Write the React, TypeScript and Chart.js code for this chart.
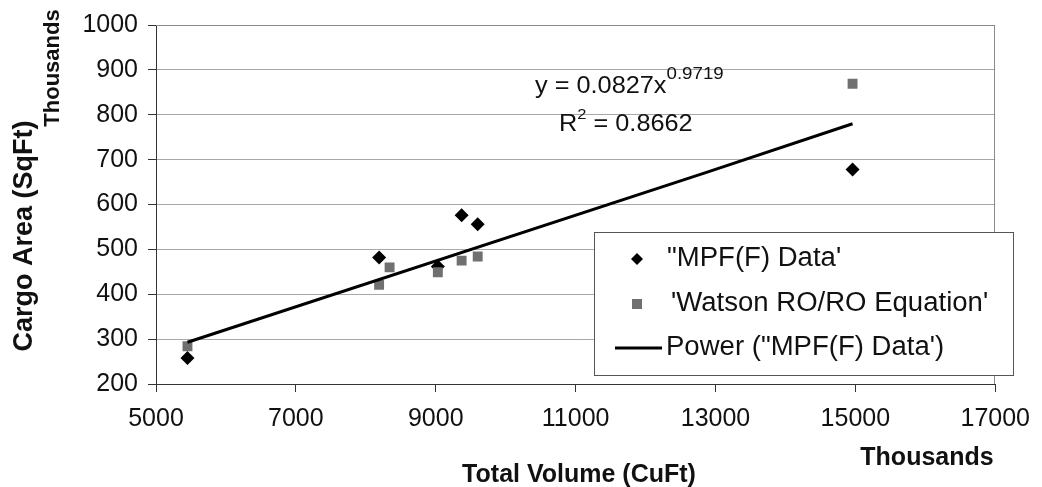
import React, { useEffect, useRef } from 'react';
import { Chart, registerables } from 'chart.js';

Chart.register(...registerables);

// ---- data (values in thousands) ----
const mpfX = [5450, 8190, 9030, 9370, 9600, 14960];
const mpfY = [258, 482, 462, 576, 556, 678];
const watsonX = [5450, 8190, 8340, 9030, 9370, 9600, 14960];
const watsonY = [284, 421, 460, 449, 475, 484, 869];
const powerX = [5450, 12860, 14960];
const powerY = [293, 671, 780];
const xTicks = [5000, 7000, 9000, 11000, 13000, 15000, 17000];
const yTicks = [200, 300, 400, 500, 600, 700, 800, 900, 1000];
const seriesLabels = ['"MPF(F) Data\'', "'Watson RO/RO Equation'", 'Power ("MPF(F) Data\')'];
const yTitle = 'Cargo Area (SqFt)';
const yUnit = 'Thousands';
const xTitle = 'Total Volume (CuFt)';
const xUnit = 'Thousands';
const eqMain = 'y = 0.0827x';
const eqExp = '0.9719';
const r2Label = 'R';
const r2Sup = '2';
const r2Value = ' = 0.8662';

const FONT = '"Liberation Sans", Arial, Helvetica, sans-serif';
const DIAMOND_COLOR = '#000000';
const SQUARE_COLOR = '#707070';

const toPoints = (xs: number[], ys: number[]) => xs.map((x, i) => ({ x, y: ys[i] }));

function drawDiamond(ctx: CanvasRenderingContext2D, x: number, y: number, r: number) {
  ctx.beginPath();
  ctx.moveTo(x - r, y);
  ctx.lineTo(x, y - r);
  ctx.lineTo(x + r, y);
  ctx.lineTo(x, y + r);
  ctx.closePath();
  ctx.fill();
}

// draws text with horizontal scale; returns drawn width
function txt(
  ctx: CanvasRenderingContext2D,
  s: string,
  x: number,
  y: number,
  size: number,
  bold: boolean,
  hs: number,
  align: CanvasTextAlign = 'left'
) {
  ctx.save();
  ctx.font = `${bold ? 'bold ' : ''}${size}px ${FONT}`;
  const w = ctx.measureText(s).width * hs;
  let sx = x;
  if (align === 'center') sx = x - w / 2;
  else if (align === 'right') sx = x - w;
  ctx.translate(sx, y);
  ctx.scale(hs, 1);
  ctx.textAlign = 'left';
  ctx.fillText(s, 0, 0);
  ctx.restore();
  return w;
}

const decorPlugin = {
  id: 'decor',
  afterDatasetsDraw(chart: any) {
    const ctx: CanvasRenderingContext2D = chart.ctx;
    const a = chart.chartArea;
    ctx.save();
    // plot border (top / right)
    ctx.strokeStyle = '#8a8a8a';
    ctx.lineWidth = 1;
    ctx.beginPath();
    ctx.moveTo(a.left, Math.round(a.top) + 0.5);
    ctx.lineTo(Math.round(a.right) - 0.5, Math.round(a.top) + 0.5);
    ctx.lineTo(Math.round(a.right) - 0.5, a.bottom);
    ctx.stroke();

    ctx.fillStyle = '#111';
    ctx.textBaseline = 'alphabetic';
    // equation
    const ex = 535, ey = 93;
    const w1 = txt(ctx, eqMain, ex, ey, 23, false, 1.1);
    txt(ctx, eqExp, ex + w1, ey - 14, 17, false, 1.1);
    // R^2
    const rx = 559, ry = 131;
    const wr = txt(ctx, r2Label, rx, ry, 23, false, 1.1);
    const ws = txt(ctx, r2Sup, rx + wr, ry - 12, 15, false, 1.1);
    txt(ctx, r2Value, rx + wr + ws, ry, 23, false, 1.1);

    // legend
    const lx = 594, ly = 232, lw = 419, lh = 143;
    ctx.fillStyle = '#ffffff';
    ctx.fillRect(lx, ly, lw, lh);
    ctx.strokeStyle = '#555';
    ctx.lineWidth = 1;
    ctx.strokeRect(lx + 0.5, ly + 0.5, lw, lh);
    const rows = [259, 304, 348];
    const mx = 637;
    ctx.fillStyle = DIAMOND_COLOR;
    drawDiamond(ctx, mx, rows[0], 6);
    ctx.fillStyle = SQUARE_COLOR;
    ctx.fillRect(mx - 5, rows[1] - 5, 10, 10);
    ctx.strokeStyle = '#000';
    ctx.lineWidth = 3;
    ctx.beginPath();
    ctx.moveTo(615, rows[2]);
    ctx.lineTo(662, rows[2]);
    ctx.stroke();
    ctx.fillStyle = '#111';
    ctx.textBaseline = 'middle';
    txt(ctx, seriesLabels[0], 667, rows[0], 27, false, 1.02);
    txt(ctx, seriesLabels[1], 671, rows[1], 27, false, 1.02);
    txt(ctx, seriesLabels[2], 666, rows[2], 27, false, 1.02);

    // axis titles
    ctx.save();
    ctx.translate(25, 236);
    ctx.rotate(-Math.PI / 2);
    txt(ctx, yTitle, 0, 0, 27, true, 1.0, 'center');
    ctx.restore();
    ctx.save();
    ctx.translate(53, 68);
    ctx.rotate(-Math.PI / 2);
    txt(ctx, yUnit, 0, 0, 22, true, 1.0, 'center');
    ctx.restore();
    txt(ctx, xTitle, 579, 475, 25, true, 1.0, 'center');
    txt(ctx, xUnit, 927, 458, 25, true, 1.0, 'center');
    ctx.restore();
  },
};

export default function App() {
  const ref = useRef<HTMLCanvasElement | null>(null);
  useEffect(() => {
    if (!ref.current) return;
    const chart = new Chart(ref.current, {
      type: 'scatter',
      data: {
        datasets: [
          {
            label: seriesLabels[2],
            data: toPoints(powerX, powerY),
            showLine: true,
            borderColor: '#000',
            borderWidth: 3,
            pointRadius: 0,
            fill: false,
            order: 1,
          },
          {
            label: seriesLabels[1],
            data: toPoints(watsonX, watsonY),
            pointStyle: 'rect',
            pointRadius: 7,
            backgroundColor: SQUARE_COLOR,
            borderColor: SQUARE_COLOR,
            borderWidth: 0,
            order: 2,
          },
          {
            label: seriesLabels[0],
            data: toPoints(mpfX, mpfY),
            pointStyle: 'rectRot',
            pointRadius: 7,
            backgroundColor: DIAMOND_COLOR,
            borderColor: DIAMOND_COLOR,
            borderWidth: 0,
            order: 3,
          },
        ],
      },
      options: {
        animation: false,
        responsive: false,
        maintainAspectRatio: false,
        devicePixelRatio: 1,
        layout: { padding: { top: 12, right: 45, left: 0, bottom: 0 } },
        plugins: { legend: { display: false }, tooltip: { enabled: false } },
        scales: {
          x: {
            type: 'linear',
            min: 5000,
            max: 17000,
            afterBuildTicks: (s: any) => {
              s.ticks = xTicks.map((v) => ({ value: v }));
            },
            afterFit: (s: any) => {
              s.height = 103;
            },
            ticks: {
              color: '#111',
              font: { family: FONT, size: 25 },
              padding: 12,
              maxRotation: 0,
              autoSkip: false,
              callback: (v: any) => String(v),
            },
            grid: { drawOnChartArea: false, drawTicks: true, tickLength: 8, color: '#333' },
            border: { display: true, color: '#333', width: 1 },
          },
          y: {
            type: 'linear',
            min: 200,
            max: 1000,
            afterBuildTicks: (s: any) => {
              s.ticks = yTicks.map((v) => ({ value: v }));
            },
            afterFit: (s: any) => {
              s.width = 156;
            },
            ticks: {
              color: '#111',
              font: { family: FONT, size: 25 },
              padding: 10,
              autoSkip: false,
              callback: (v: any) => String(v),
            },
            grid: { color: '#a8a8a8', lineWidth: 1, tickColor: '#333', tickLength: 8 },
            border: { display: true, color: '#333', width: 1 },
          },
        },
      },
      plugins: [decorPlugin],
    });
    return () => chart.destroy();
  }, []);
  return (
    <div style={{ position: 'absolute', left: 0, top: 0, width: 1042, height: 487, background: '#fff' }}>
      <canvas ref={ref} width={1042} height={487} style={{ width: 1042, height: 487 }} />
    </div>
  );
}
